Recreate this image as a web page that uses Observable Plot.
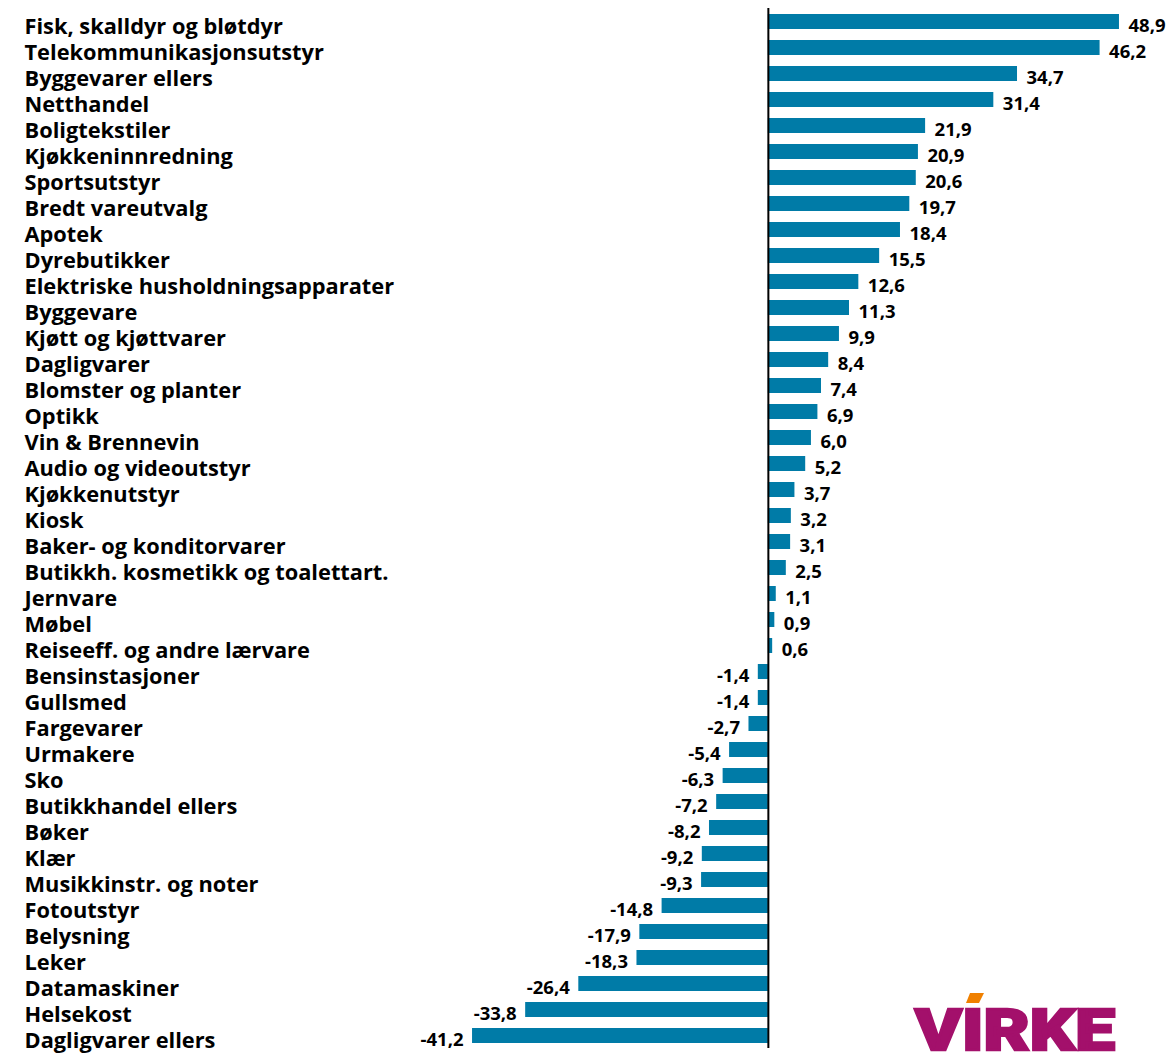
<!DOCTYPE html>
<html>
<head>
<meta charset="utf-8">
<script src="https://cdn.jsdelivr.net/npm/d3@7"></script>
<script src="https://cdn.jsdelivr.net/npm/@observablehq/plot@0.6"></script>
<style>
  html, body { margin: 0; padding: 0; background: #fff; }
  #wrap { position: relative; width: 1166px; height: 1055px; }
  #logo { position: absolute; left: 0; top: 0; pointer-events: none; }
</style>
</head>
<body>
<div id="wrap"></div>
<script>
const categories = [
  "Fisk, skalldyr og bløtdyr",
  "Telekommunikasjonsutstyr",
  "Byggevarer ellers",
  "Netthandel",
  "Boligtekstiler",
  "Kjøkkeninnredning",
  "Sportsutstyr",
  "Bredt vareutvalg",
  "Apotek",
  "Dyrebutikker",
  "Elektriske husholdningsapparater",
  "Byggevare",
  "Kjøtt og kjøttvarer",
  "Dagligvarer",
  "Blomster og planter",
  "Optikk",
  "Vin & Brennevin",
  "Audio og videoutstyr",
  "Kjøkkenutstyr",
  "Kiosk",
  "Baker- og konditorvarer",
  "Butikkh. kosmetikk og toalettart.",
  "Jernvare",
  "Møbel",
  "Reiseeff. og andre lærvare",
  "Bensinstasjoner",
  "Gullsmed",
  "Fargevarer",
  "Urmakere",
  "Sko",
  "Butikkhandel ellers",
  "Bøker",
  "Klær",
  "Musikkinstr. og noter",
  "Fotoutstyr",
  "Belysning",
  "Leker",
  "Datamaskiner",
  "Helsekost",
  "Dagligvarer ellers"
];
const values = [
  48.9, 46.2, 34.7, 31.4, 21.9, 20.9, 20.6, 19.7, 18.4, 15.5,
  12.6, 11.3, 9.9, 8.4, 7.4, 6.9, 6.0, 5.2, 3.7, 3.2,
  3.1, 2.5, 1.1, 0.9, 0.6, -1.4, -1.4, -2.7, -5.4, -6.3,
  -7.2, -8.2, -9.2, -9.3, -14.8, -17.9, -18.3, -26.4, -33.8, -41.2
];

const data = categories.map((c, i) => ({cat: c, value: values[i]}));
const fmt = v => v.toFixed(1).replace(".", ",");
const font = "'Open Sans', Lato, sans-serif";

const chart = Plot.plot({
  width: 1166,
  height: 1055,
  marginLeft: 24,
  marginRight: 0,
  marginTop: 8,
  marginBottom: 7,
  style: {fontFamily: font, background: "#fff"},
  x: {domain: [-103.6, 55.45], axis: null},
  y: {domain: categories, paddingInner: 0.43, paddingOuter: 0.19, axis: null},
  marks: [
    Plot.barX(data, {x: "value", y: "cat", fill: "#007BA7"}),
    Plot.ruleX([0], {stroke: "#000", strokeWidth: 2}),
    Plot.text(data, {
      y: "cat", text: "cat", frameAnchor: "left", textAnchor: "start",
      dy: 5, fontSize: 21.8, fontWeight: "bold", fill: "#000"
    }),
    Plot.text(data.filter(d => d.value >= 0), {
      x: "value", y: "cat", text: d => fmt(d.value), textAnchor: "start",
      dx: 9, dy: 4, fontSize: 18.5, fontWeight: "bold", fill: "#000"
    }),
    Plot.text(data.filter(d => d.value < 0), {
      x: "value", y: "cat", text: d => fmt(d.value), textAnchor: "end",
      dx: -9, dy: 4, fontSize: 18.5, fontWeight: "bold", fill: "#000"
    })
  ]
});
document.getElementById("wrap").appendChild(chart);

// Virke logo (decoration)
const ns = "http://www.w3.org/2000/svg";
const logo = document.createElementNS(ns, "svg");
logo.setAttribute("id", "logo");
logo.setAttribute("width", 1166);
logo.setAttribute("height", 1055);
const t = document.createElementNS(ns, "text");
t.setAttribute("x", 915);
t.setAttribute("y", 1050);
t.setAttribute("font-family", "Roboto, 'Open Sans', sans-serif");
t.setAttribute("font-weight", "900");
t.setAttribute("font-size", 58);
t.setAttribute("textLength", 200);
t.setAttribute("lengthAdjust", "spacingAndGlyphs");
t.setAttribute("fill", "#A3106B");
t.setAttribute("stroke", "#A3106B");
t.setAttribute("stroke-width", 2.5);
t.textContent = "VIRKE";
logo.appendChild(t);
const p = document.createElementNS(ns, "polygon");
p.setAttribute("points", "970,993 984,993 979,1003 966,1003");
p.setAttribute("fill", "#F08000");
logo.appendChild(p);
document.getElementById("wrap").appendChild(logo);
</script>
</body>
</html>
